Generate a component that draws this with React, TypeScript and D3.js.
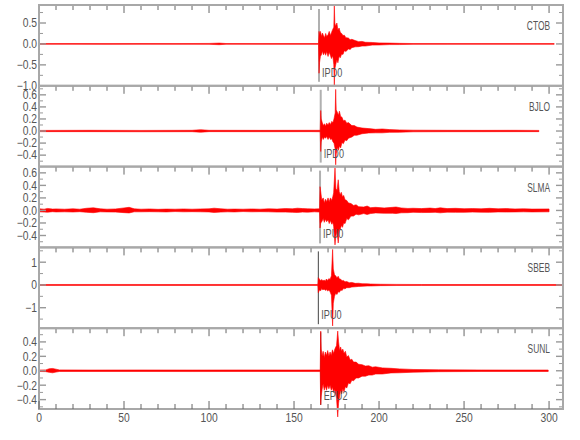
import React from 'react';
import * as d3 from 'd3';

// ---- data ----
const stations = ['CTOB', 'BJLO', 'SLMA', 'SBEB', 'SUNL'];
const pickLabels = ['IPD0', 'IPD0', 'IPU0', 'IPU0', 'EPU2'];
const pickTimes = [164.7, 165.7, 165.3, 164.3, 165.7];
const xTicks = [0, 50, 100, 150, 200, 250, 300];
const xMinorTicks = d3.range(0, 310, 10);
const yDomains: [number, number][] = [[-1.0, 0.93], [-0.59, 0.75], [-0.59, 0.7], [-1.9, 1.65], [-0.53, 0.59]];
const yMajorTicks = [
  [0.5, 0, -0.5, -1.0],
  [0.6, 0.4, 0.2, 0, -0.2, -0.4],
  [0.6, 0.4, 0.2, 0, -0.2, -0.4],
  [1, 0, -1],
  [0.4, 0.2, 0, -0.2, -0.4],
];
const yMinorTicks = [
  [0.75, 0.25, -0.25, -0.75],
  [0.7, 0.5, 0.3, 0.1, -0.1, -0.3, -0.5],
  [0.7, 0.5, 0.3, 0.1, -0.1, -0.3, -0.5],
  [1.5, 0.5, -0.5, -1.5],
  [0.5, 0.3, 0.1, -0.1, -0.3, -0.5],
];
const yFormats = ['.1f', '.1f', '.1f', 'd', '.1f'];

// envelopes: [time, upper, lower]
const ctob: [number, number, number][] = [
  [0, .008, -.008], [20, .01, -.008], [40, .008, -.01], [60, .01, -.008], [80, .008, -.008], [100, .012, -.01],
  [106, .02, -.018], [110, .01, -.008], [130, .008, -.008], [150, .01, -.01], [164.4, .01, -.01],
  [164.7, .3, -.7], [165.0, .22, -.45], [165.5, .3, -.3], [166.2, .18, -.25], [166.7, .26, -.17], [167.3, .2, -.26],
  [168, .15, -.2], [168.6, .25, -.27], [169.2, .18, -.18], [170, .22, -.3], [170.7, .3, -.2], [171.4, .2, -.27],
  [172, .27, -.35], [172.8, .35, -.28], [173.4, .4, -.5], [173.7, .92, -1.0], [174.0, .5, -.6], [174.5, .42, -.5],
  [175.2, .5, -.38], [175.8, .33, -.45], [176.5, .38, -.3], [177.2, .28, -.33], [178, .25, -.24], [178.8, .2, -.25],
  [179.6, .21, -.16], [180.5, .15, -.18], [182, .14, -.12], [183, .1, -.13], [184, .11, -.09], [186, .08, -.07],
  [188, .055, -.065], [190, .06, -.05], [192, .04, -.05], [196, .035, -.028], [200, .024, -.025], [206, .02, -.016],
  [212, .014, -.015], [220, .01, -.01], [240, .008, -.008], [260, .008, -.008], [280, .008, -.008], [303, .008, -.008],
];
const bjlo: [number, number, number][] = [
  [0, .01, -.01], [30, .012, -.01], [60, .01, -.012], [90, .012, -.011], [95, .022, -.02], [100, .012, -.01],
  [130, .011, -.011], [160, .012, -.01], [165.4, .012, -.012],
  [165.7, .34, -.34], [166, .2, -.18], [166.6, .14, -.1], [167.2, .09, -.14], [167.9, .12, -.1], [168.5, .08, -.12],
  [169.2, .13, -.09], [170, .1, -.14], [170.7, .14, -.1], [171.5, .11, -.14], [172.2, .16, -.13], [172.9, .14, -.18],
  [173.5, .2, -.2], [174.2, .3, -.3], [174.5, .69, -.56], [174.8, .35, -.38], [175.5, .31, -.27], [176.1, .26, -.32],
  [176.7, .33, -.25], [177.4, .24, -.28], [178.2, .23, -.19], [179, .17, -.21], [180, .18, -.15], [181, .13, -.16],
  [182, .14, -.12], [184, .09, -.1], [185.5, .09, -.07], [187, .065, -.07], [190, .05, -.045], [194, .04, -.032],
  [198, .028, -.03], [202, .034, -.03], [206, .024, -.022], [212, .018, -.02], [220, .014, -.013], [240, .012, -.011],
  [260, .011, -.011], [280, .012, -.01], [294, .01, -.01],
];
const slma: [number, number, number][] = [
  [0, .028, -.022], [3, .02, -.026], [5, .032, -.028], [8, .022, -.02], [10, .025, -.024], [15, .02, -.022],
  [20, .026, -.025], [24, .02, -.02], [28, .035, -.03], [32, .042, -.036], [36, .026, -.022], [40, .02, -.024],
  [45, .024, -.026], [50, .04, -.035], [53, .05, -.04], [56, .026, -.022], [60, .02, -.022], [65, .024, -.02],
  [70, .018, -.022], [75, .022, -.024], [80, .02, -.018], [85, .024, -.022], [90, .02, -.02], [95, .024, -.022],
  [100, .026, -.024], [103, .036, -.032], [107, .026, -.026], [111, .02, -.022], [115, .022, -.024], [120, .02, -.018],
  [125, .024, -.022], [130, .02, -.02], [135, .026, -.022], [140, .022, -.026], [145, .03, -.026], [149, .026, -.03],
  [152, .036, -.032], [155, .03, -.026], [158, .026, -.028], [162, .024, -.022], [165, .026, -.026],
  [165.3, .38, -.28], [165.7, .3, -.2], [166.3, .17, -.18], [167.2, .2, -.13], [167.8, .12, -.19], [168.5, .18, -.14],
  [169.2, .14, -.18], [170, .2, -.15], [170.7, .14, -.21], [171.4, .2, -.16], [172.2, .16, -.22], [172.8, .22, -.19],
  [173.3, .28, -.25], [174.1, .68, -.55], [174.6, .35, -.4], [175.3, .32, -.35], [176, .49, -.52], [176.6, .3, -.32],
  [177.2, .25, -.3], [177.8, .29, -.24], [178.5, .22, -.27], [179.2, .24, -.2], [180, .17, -.21], [181, .16, -.13],
  [182, .12, -.15], [183.5, .11, -.09], [185, .08, -.09], [186.5, .09, -.06], [188, .06, -.07], [191, .055, -.05],
  [193, .07, -.065], [195, .045, -.05], [198, .05, -.04], [203, .04, -.045], [208, .05, -.045], [210, .055, -.05],
  [213, .04, -.038], [217, .032, -.036], [220, .035, -.03], [225, .03, -.034], [230, .038, -.032], [233, .03, -.03],
  [236, .042, -.038], [240, .03, -.028], [245, .034, -.03], [250, .028, -.03], [255, .03, -.026], [260, .026, -.028],
  [265, .034, -.03], [270, .026, -.024], [275, .03, -.026], [280, .024, -.024], [285, .026, -.022], [290, .022, -.024],
  [300, .024, -.022],
];
const sbeb: [number, number, number][] = [
  [0, .02, -.02], [40, .022, -.02], [80, .02, -.022], [120, .022, -.02], [164, .02, -.02],
  [164.3, .32, -.34], [165, .25, -.22], [165.7, .18, -.25], [166.3, .24, -.16], [167, .17, -.22], [167.7, .22, -.18],
  [168.4, .16, -.24], [169, .26, -.2], [169.8, .2, -.27], [170.5, .28, -.22], [171.2, .24, -.3], [172, .4, -.45],
  [172.7, 1.56, -1.8], [173.1, .7, -.8], [173.8, .45, -.5], [174.5, .4, -.36], [175.2, .32, -.42], [176, .38, -.3],
  [176.7, .26, -.32], [177.5, .25, -.22], [178.3, .18, -.24], [179, .2, -.16], [180, .14, -.17], [181, .15, -.12],
  [182.5, .1, -.12], [184, .11, -.09], [186, .07, -.08], [188, .075, -.065], [190, .055, -.06], [193, .05, -.045],
  [195, .04, -.045], [201, .03, -.03], [210, .025, -.025], [225, .02, -.02], [260, .02, -.02], [308, .02, -.02],
];
const sunl: [number, number, number][] = [
  [0, .01, -.01], [4, .012, -.012], [6, .028, -.022], [8, .032, -.028], [10, .022, -.018], [12, .012, -.01],
  [30, .01, -.01], [60, .011, -.01], [90, .01, -.011], [120, .011, -.01], [150, .01, -.01], [165.4, .011, -.011],
  [165.7, .55, -.47], [166, .3, -.35], [166.5, .2, -.26], [167.1, .27, -.18], [167.8, .18, -.27], [168.4, .26, -.21],
  [169.1, .21, -.27], [169.8, .28, -.2], [170.5, .2, -.25], [171.2, .26, -.2], [171.9, .21, -.27], [172.6, .29, -.23],
  [173.3, .24, -.3], [174, .3, -.26], [175, .35, -.38], [175.7, .55, -.64], [176.2, .4, -.45], [176.8, .28, -.35],
  [177.4, .33, -.27], [178, .27, -.32], [178.7, .3, -.25], [179.4, .24, -.29], [180.2, .27, -.22], [181, .19, -.24],
  [182, .21, -.17], [183, .15, -.18], [184, .16, -.13], [185, .12, -.14], [186.5, .12, -.1], [188, .09, -.1],
  [190, .085, -.075], [192, .065, -.075], [194, .07, -.06], [196, .05, -.06], [198, .055, -.045], [202, .04, -.045],
  [207, .034, -.03], [212, .026, -.028], [220, .018, -.02], [235, .013, -.013], [260, .011, -.01],
  [280, .01, -.01], [299.5, .01, -.01],
];
const traces = [ctob, bjlo, slma, sbeb, sunl];

// ---- layout / style ----
const W = 580, H = 440;
const LEFT = 39, RIGHT = 563, TOP = 5, BOTTOM = 409;
const FONT = "'Liberation Sans', Arial, sans-serif";
const TXT = '#555';
const FRAME = '#a8a8a8';
const markerStyles = [
  { stroke: '#b0b0b0', w: 2 }, { stroke: '#b0b0b0', w: 2 }, { stroke: '#b0b0b0', w: 2 },
  { stroke: '#444', w: 1 }, { stroke: '#444', w: 1 },
];

function NText({ x, y, anchor = 'start', size, sx, dy, children }:
  { x: number; y: number; anchor?: string; size: number; sx: number; dy?: string; children: React.ReactNode }) {
  return (
    <text transform={`translate(${x},${y}) scale(${sx},1)`} dy={dy} textAnchor={anchor as any}
      fontFamily={FONT} fontSize={size} fill={TXT}>{children}</text>
  );
}

export default function App() {
  const x = d3.scaleLinear().domain([0, 308.2]).range([LEFT, RIGHT]);
  const band = d3.scaleBand<number>().domain(d3.range(stations.length)).range([TOP, BOTTOM]).paddingInner(0);
  const ph = band.bandwidth();

  return (
    <svg width={W} height={H} style={{ position: 'absolute', left: 0, top: 0, background: '#fff' }}>
      {stations.map((st, i) => {
        const top = band(i)!;
        const bot = top + ph;
        const y = d3.scaleLinear().domain(yDomains[i]).range([bot, top]);
        const area = d3.area<[number, number, number]>()
          .x(d => x(d[0]))
          .y0(d => y(d[2]))
          .y1(d => y(d[1]));
        const fmt = d3.format(yFormats[i]);
        const mx = x(pickTimes[i]);
        const ms = markerStyles[i];
        return (
          <g key={st}>
            <line x1={mx} x2={mx} y1={top + 4} y2={bot - 4} stroke={ms.stroke} strokeWidth={ms.w} />
            <path d={area(traces[i]) || ''} fill="#ff0000" stroke="#ff0000" strokeWidth={0.6} strokeLinejoin="round" />
            <NText x={mx + 3} y={bot - 9} size={12} sx={0.76}>{pickLabels[i]}</NText>
            {yMajorTicks[i].map(v => (
              <g key={'M' + v}>
                <line x1={LEFT} x2={LEFT + 7} y1={y(v)} y2={y(v)} stroke="#999" strokeWidth={1.4} />
                <line x1={RIGHT} x2={RIGHT - 7} y1={y(v)} y2={y(v)} stroke="#999" strokeWidth={1.4} />
                <NText x={LEFT - 2} y={y(v)} dy="0.36em" anchor="end" size={12} sx={0.86}>{fmt(v)}</NText>
              </g>
            ))}
            {yMinorTicks[i].map(v => (
              <g key={'m' + v}>
                <line x1={LEFT} x2={LEFT + 4} y1={y(v)} y2={y(v)} stroke="#999" strokeWidth={1} />
                <line x1={RIGHT} x2={RIGHT - 4} y1={y(v)} y2={y(v)} stroke="#999" strokeWidth={1} />
              </g>
            ))}
            {xMinorTicks.map(t => (
              <line key={'xt' + t} x1={x(t)} x2={x(t)} y1={top} y2={top + (t % 50 === 0 ? 8 : 5)} stroke="#666" strokeWidth={1} />
            ))}
            <NText x={RIGHT - 13} y={top + 25} anchor="end" size={12} sx={0.7}>{st}</NText>
            <rect x={LEFT} y={top} width={RIGHT - LEFT} height={ph} fill="none" stroke={FRAME} strokeWidth={2} />
          </g>
        );
      })}
      {xMinorTicks.map(t => (
        <line key={'bx' + t} x1={x(t)} x2={x(t)} y1={BOTTOM} y2={BOTTOM - (t % 50 === 0 ? 8 : 5)} stroke="#666" strokeWidth={1} />
      ))}
      {xTicks.map(t => (
        <NText key={'bl' + t} x={x(t)} y={BOTTOM + 13} anchor="middle" size={12} sx={0.86}>{t}</NText>
      ))}
    </svg>
  );
}
